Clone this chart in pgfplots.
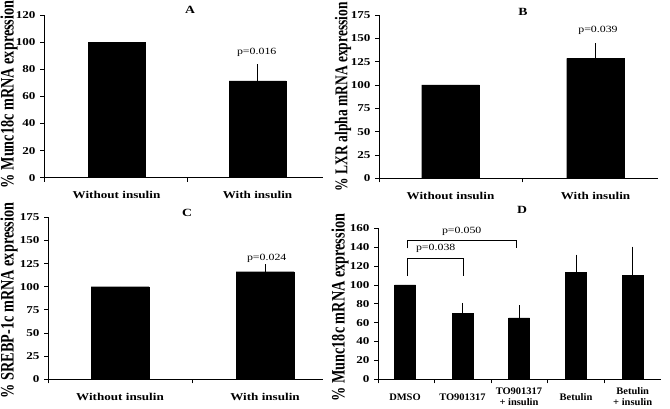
\documentclass[border=0pt]{standalone}
\usepackage{pgfplots}
\pgfplotsset{compat=1.18}
\usepackage{fontspec}
\setmainfont{Liberation Serif}
\newfontfamily\hfont{Liberation Serif}[FakeStretch=1.25]
\newfontfamily\vfont{Liberation Serif Bold}[FakeStretch=0.75]
\newfontfamily\dfont{Liberation Serif Bold}[FakeStretch=1.05]
\tikzset{pval/.style={font=\hfont\fontsize{9.5}{11}\selectfont}}
\begin{document}
\begin{tikzpicture}
\useasboundingbox (0pt,0pt) rectangle (670pt,409pt);
\pgfplotsset{
 panel/.style={
  scale only axis, anchor=south west,
  axis x line*=bottom, axis y line*=left,
  axis line style={line width=0.8pt, black},
  enlargelimits=false, ymin=0,
  tick align=outside, major tick length=4pt, minor tick length=4pt,
  major x tick style={draw=none},
  minor x tick style={line width=0.8pt, black},
  ytick style={line width=0.8pt, black},
  /pgf/number format/assume math mode=true,
  ticklabel style={font=\hfont\bfseries\fontsize{10.5}{10.5}\selectfont},
  yticklabel style={xshift=-1pt},
  xticklabel style={align=center, anchor=center, yshift=-13.5pt},
  ylabel style={font=\vfont\fontsize{19}{21}\selectfont,
     at={(axis description cs:0,0.5)}, anchor=center},
  title style={font=\hfont\bfseries\fontsize{11}{13}\selectfont, at={(0.5,1)}, anchor=center},
  clip=false,
 },
 bars/.style={ybar, bar shift=0pt, fill=black, draw=black,
   error bars/y dir=plus, error bars/y explicit, error bars/error mark=none,
   error bars/error bar style={line width=0.8pt, black}},
}
% Panel A
\begin{axis}[panel, at={(44pt,231.3pt)}, width=279pt, height=162.7pt,
  xmin=44, xmax=323, ymax=120, ytick={0,20,...,120},
  xtick={116.5,257.5}, xticklabels={Without insulin, With insulin},
  minor xtick={44,187},
  ylabel={\% Munc18c mRNA expression}, ylabel style={yshift=35pt, xshift=2pt},
  title={A}, title style={xshift=6.5pt, yshift=-1pt}]
\addplot[bars, bar width=57] coordinates {(116.5,100) +- (0,0) (257.5,71.5) +- (0,12.1)};
\node[pval] at (axis cs:256.7,92.2) {p=0.016};
\end{axis}
% Panel B
\begin{axis}[panel, at={(379pt,230.7pt)}, width=279pt, height=163.3pt,
  xmin=379, xmax=658, ymax=175, ytick={0,25,...,175},
  xtick={450.5,595.5}, xticklabels={Without insulin, With insulin},
  minor xtick={379,522.7},
  ylabel={\% LXR alpha mRNA expression},
  ylabel style={yshift=36pt, xshift=0pt, font=\vfont\fontsize{18}{20}\selectfont},
  title={B}, title style={xshift=4.5pt, yshift=-3pt}]
\addplot[bars, bar width=57.6] coordinates {(450.5,100) +- (0,0) (595.5,128.6) +- (0,16.1)};
\node[pval] at (axis cs:598,158.3) {p=0.039};
\end{axis}
% Panel C
\begin{axis}[panel, at={(48pt,29.7pt)}, width=275pt, height=162pt,
  xmin=48, xmax=323, ymax=175, ytick={0,25,...,175},
  xtick={120,265}, xticklabels={Without insulin, With insulin},
  minor xtick={48,192.3},
  ylabel={\% SREBP-1c mRNA expression}, ylabel style={yshift=39pt, xshift=-2pt},
  title={C}, title style={xshift=1.5pt, yshift=-2pt}]
\addplot[bars, bar width=58] coordinates {(120,100) +- (0,0) (265,116.2) +- (0,8)};
\node[pval] at (axis cs:266.7,130.7) {p=0.024};
\end{axis}
% Panel D
\begin{axis}[panel, at={(378pt,29.7pt)}, width=283pt, height=151pt,
  xmin=378, xmax=661, ymax=160, ytick={0,20,...,160},
  xtick={405,462.5,519,576,632.7},
  xticklabels={DMSO, TO901317, {TO901317\\+ insulin}, Betulin, {Betulin\\+ insulin}},
  xticklabel style={font=\dfont\fontsize{10}{10.5}\selectfont},
  minor xtick={378,434.3,491,547.7,604.3},
  ylabel={\% Munc18c mRNA expression}, ylabel style={yshift=38pt, xshift=-4pt},
  title={D}, title style={xshift=2.5pt, yshift=12pt}]
\addplot[bars, bar width=21] coordinates {(405,100) +- (0,0) (462.5,70) +- (0,11) (519,65) +- (0,13.5) (576,113) +- (0,19) (632.7,110) +- (0,30.5)};
\addplot[black, line width=0.8pt] coordinates {(407.7,138.8) (407.7,147.6) (516.7,147.6) (516.7,138.8)};
\addplot[black, line width=0.8pt] coordinates {(407.7,109.4) (407.7,128.2) (463.3,128.2) (463.3,109.4)};
\node[pval] at (axis cs:461.7,157.1) {p=0.050};
\node[pval] at (axis cs:435.7,138.8) {p=0.038};
\end{axis}
\end{tikzpicture}
\end{document}
